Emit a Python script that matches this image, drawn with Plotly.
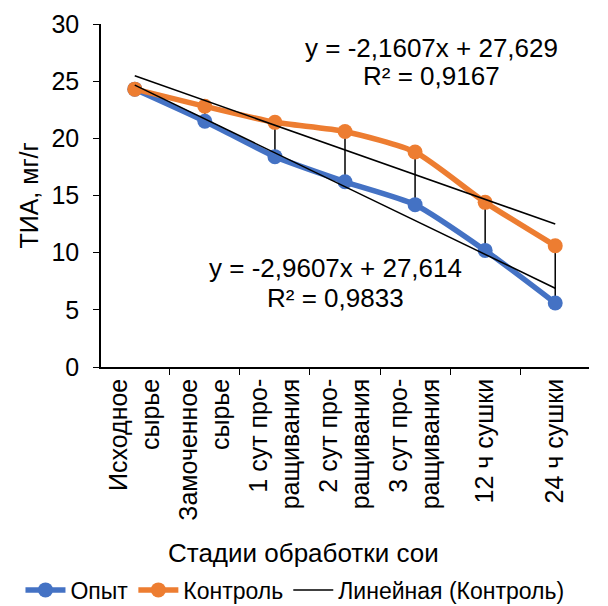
import numpy as np
import plotly.graph_objects as go

categories = ["Исходное<br>сырье", "Замоченное<br>сырье", "1 сут про-<br>ращивания",
              "2 сут про-<br>ращивания", "3 сут про-<br>ращивания", "12 ч сушки", "24 ч сушки"]
opyt = [24.3, 21.5, 18.4, 16.2, 14.2, 10.2, 5.6]
kontrol = [24.3, 22.8, 21.4, 20.6, 18.8, 14.4, 10.6]

BLUE = "#4472C4"
ORANGE = "#ED7D31"
FONT = "Liberation Sans, Arial, sans-serif"

xi = np.arange(1, len(categories) + 1)
k_fit = np.polyfit(xi, kontrol, 1)
o_fit = np.polyfit(xi, opyt, 1)
k_trend = np.polyval(k_fit, xi)
o_trend = np.polyval(o_fit, xi)

# drop lines between series
dx, dy = [], []
for c, a, b in zip(categories, kontrol, opyt):
    dx += [c, c, None]
    dy += [a, b, None]

fig = go.Figure()
fig.add_trace(go.Scatter(x=dx, y=dy, mode="lines", line=dict(color="black", width=1.5),
                         showlegend=False, hoverinfo="skip"))
fig.add_trace(go.Scatter(x=categories, y=opyt, name="Опыт", mode="lines+markers",
                         line=dict(color=BLUE, width=5.5, shape="spline", smoothing=0.6),
                         marker=dict(size=15, color=BLUE)))
fig.add_trace(go.Scatter(x=categories, y=kontrol, name="Контроль", mode="lines+markers",
                         line=dict(color=ORANGE, width=5.5, shape="spline", smoothing=0.6),
                         marker=dict(size=15, color=ORANGE)))
fig.add_trace(go.Scatter(x=categories, y=k_trend, name="Линейная (Контроль)", mode="lines",
                         line=dict(color="black", width=1.5)))
fig.add_trace(go.Scatter(x=categories, y=o_trend, name="Линейная (Опыт)", mode="lines",
                         line=dict(color="black", width=1.5), showlegend=False))

ann_font = dict(family=FONT, size=26, color="black")
for txt, x, y in [("y = -2,1607x + 27,629", 0.678, 0.93),
                  ("R² = 0,9167", 0.678, 0.849),
                  ("y = -2,9607x + 27,614", 0.48, 0.289),
                  ("R² = 0,9833", 0.48, 0.201)]:
    fig.add_annotation(x=x, y=y, xref="paper", yref="paper", xanchor="center", yanchor="middle",
                       text=txt, showarrow=False, font=ann_font)

fig.add_annotation(x=0.415, y=-0.542, xref="paper", yref="paper", xanchor="center", yanchor="middle",
                   text="Стадии обработки сои", showarrow=False, font=dict(family=FONT, size=26))

fig.update_layout(
    width=608, height=606,
    margin=dict(l=101, r=19, t=24, b=239, autoexpand=False),
    paper_bgcolor="white", plot_bgcolor="white",
    font=dict(family=FONT, size=24, color="black"),
    legend=dict(orientation="h", x=-0.165, xanchor="left",
                y=-0.65, yanchor="middle", font=dict(size=23), itemwidth=40,
                tracegroupgap=0, bgcolor="rgba(0,0,0,0)"),
)
fig.update_xaxes(
    type="category", tickangle=-90, showline=True, linecolor="black", linewidth=1.5,
    ticks="outside", tickcolor="black", ticklen=6, tickson="boundaries",
    showgrid=False, tickfont=dict(size=25), automargin=False,
)
fig.update_yaxes(
    range=[0, 30], dtick=5, showline=True, linecolor="black", linewidth=1.5,
    ticks="outside", tickcolor="black", ticklen=6, showgrid=False, zeroline=False,
    tickfont=dict(size=25), automargin=False, ticklabelstandoff=9,
    title=dict(text="ТИА, мг/г", font=dict(size=25), standoff=6),
)

fig.write_html("out.html", config={"displayModeBar": False},
               post_script="document.body.style.margin='0';")
